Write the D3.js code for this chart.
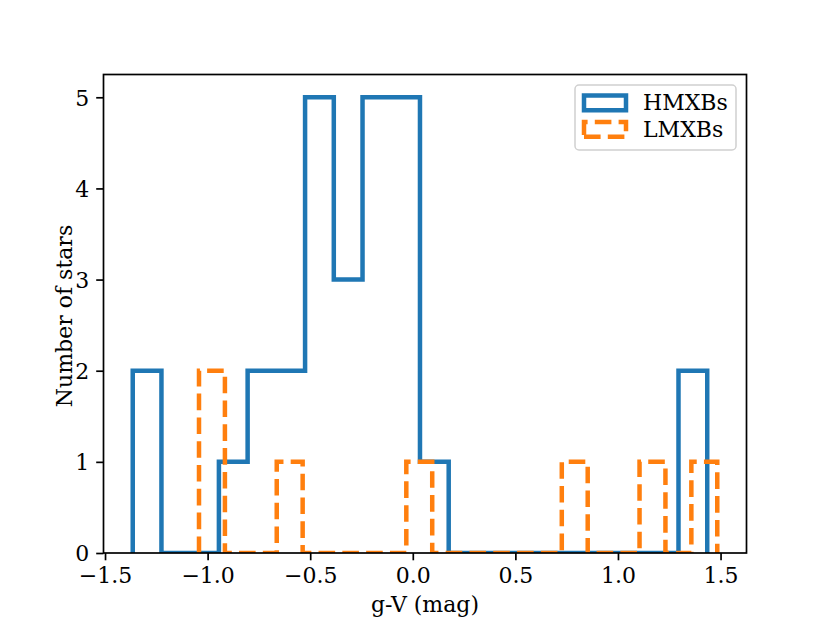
<!DOCTYPE html>
<html>
<head>
<meta charset="utf-8">
<script src="https://cdn.jsdelivr.net/npm/d3@7"></script>
<style>
  body { margin: 0; background: #fff; }
  text { font-family: "DejaVu Serif", serif; fill: #000; }
</style>
</head>
<body>
<svg id="chart" width="830" height="623"></svg>
<script>
// histogram counts, 20 bins each over the given range
const hmxbCounts = [2, 0, 0, 1, 2, 2, 5, 3, 5, 5, 1, 0, 0, 0, 0, 0, 0, 0, 0, 2];
const hmxbRange = [-1.365, 1.435];
const lmxbCounts = [2, 0, 0, 1, 0, 0, 0, 0, 1, 0, 0, 0, 0, 0, 1, 0, 0, 1, 0, 1];
const lmxbRange = [-1.042, 1.484];
const xTicks = [-1.5, -1.0, -0.5, 0.0, 0.5, 1.0, 1.5];
const yTicks = [0, 1, 2, 3, 4, 5];
const seriesNames = ["HMXBs", "LMXBs"];

const plotLeft = 103.5, plotRight = 746.5, plotTop = 74.5, plotBottom = 553;
const fontPx = "22px";
const svg = d3.select("#chart");

let edgesOf = (range, n) => d3.range(n + 1).map(i => range[0] + i * (range[1] - range[0]) / n);
let hmxbEdges = edgesOf(hmxbRange, hmxbCounts.length);
let lmxbEdges = edgesOf(lmxbRange, lmxbCounts.length);

let lo = Math.min(hmxbRange[0], lmxbRange[0]), hi = Math.max(hmxbRange[1], lmxbRange[1]);
let pad = (hi - lo) * 0.05;
const x = d3.scaleLinear().domain([lo - pad, hi + pad]).range([plotLeft, plotRight]);
const y = d3.scaleLinear().domain([0, 5.25]).range([plotBottom, plotTop]);

svg.append("defs").append("clipPath").attr("id", "clip")
  .append("rect").attr("x", plotLeft).attr("y", plotTop)
  .attr("width", plotRight - plotLeft).attr("height", plotBottom - plotTop);

// step outline like matplotlib histtype='step'
let stepPoints = (edges, counts) => {
  let pts = [[edges[0], 0]];
  counts.forEach((c, i) => { pts.push([edges[i], c]); pts.push([edges[i + 1], c]); });
  pts.push([edges[edges.length - 1], 0]);
  return pts;
};
const line = d3.line().x(d => x(d[0])).y(d => y(d[1]));

const plot = svg.append("g").attr("clip-path", "url(#clip)");
plot.append("path")
  .attr("d", line(stepPoints(hmxbEdges, hmxbCounts)))
  .attr("fill", "none").attr("stroke", "#1f77b4").attr("stroke-width", 4.5)
  .attr("stroke-linejoin", "miter");
plot.append("path")
  .attr("d", line(stepPoints(lmxbEdges, lmxbCounts)))
  .attr("fill", "none").attr("stroke", "#ff7f0e").attr("stroke-width", 4.5)
  .attr("stroke-dasharray", "16.6,7.2").attr("stroke-linejoin", "miter");

// axes
const xAxis = d3.axisBottom(x).tickValues(xTicks).tickSize(7.3).tickPadding(7)
  .tickFormat(d => d3.format(".1f")(d).replace("-", "\u2212"));
const yAxis = d3.axisLeft(y).tickValues(yTicks).tickSize(7.3).tickPadding(7).tickFormat(d3.format("d"));

let gx = svg.append("g").attr("transform", `translate(0,${plotBottom})`).call(xAxis);
let gy = svg.append("g").attr("transform", `translate(${plotLeft},0)`).call(yAxis);
[gx, gy].forEach(g => {
  g.select(".domain").remove();
  g.selectAll("line").attr("stroke", "#000").attr("stroke-width", 1.7);
  g.selectAll("text").style("font-size", fontPx).style("font-family", "DejaVu Serif");
});
gx.selectAll("text").attr("dy", "0.71em");
gy.selectAll("text").attr("dy", "0.36em");

svg.append("rect").attr("x", plotLeft).attr("y", plotTop)
  .attr("width", plotRight - plotLeft).attr("height", plotBottom - plotTop)
  .attr("fill", "none").attr("stroke", "#000").attr("stroke-width", 1.7);

svg.append("text").attr("x", (plotLeft + plotRight) / 2).attr("y", 611.5).attr("text-anchor", "middle")
  .style("font-size", fontPx).text("g-V (mag)");
svg.append("text").attr("transform", `translate(72,316) rotate(-90)`)
  .attr("text-anchor", "middle").style("font-size", fontPx).text("Number of stars");

// legend
const lg = svg.append("g");
lg.append("rect").attr("x", 575).attr("y", 85).attr("width", 161).attr("height", 65).attr("rx", 4)
  .attr("fill", "#fff").attr("fill-opacity", 0.8).attr("stroke", "#d0d0d0").attr("stroke-width", 1.5);
const legendColors = ["#1f77b4", "#ff7f0e"];
seriesNames.forEach((name, i) => {
  let y0 = 95.5 + i * 26.5, y1 = y0 + 14.8, x0 = 584, x1 = 626;
  lg.append("path")
    .attr("d", `M${x0},${y1}L${x1},${y1}L${x1},${y0}L${x0},${y0}Z`)
    .attr("fill", "none").attr("stroke", legendColors[i]).attr("stroke-width", 4.5)
    .attr("stroke-dasharray", i === 1 ? "16.6,7.2" : null);
  lg.append("text").attr("x", 643).attr("y", y1 - 0.8 + i * 0.6).style("font-size", fontPx).text(name);
});
</script>
</body>
</html>
